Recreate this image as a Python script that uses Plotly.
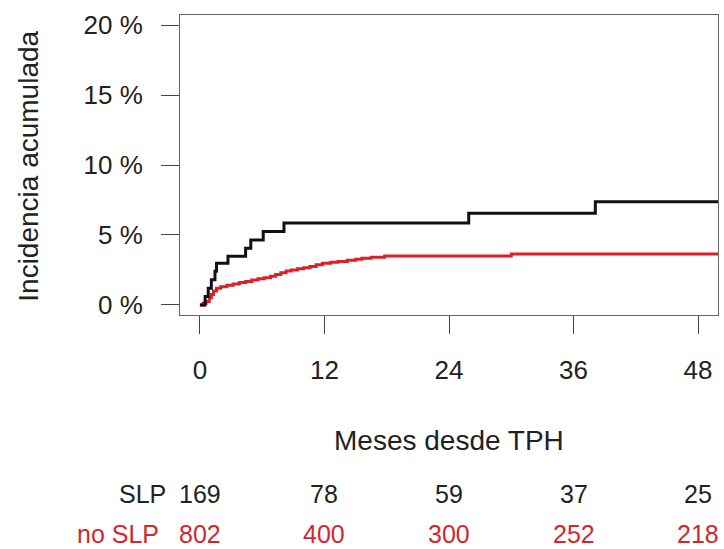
import plotly.graph_objects as go

# Cumulative incidence (%) by months since transplant, step functions
slp_time = [0, 0.5, 0.8, 1.1, 1.45, 1.6, 2.7, 4.4, 4.9, 6.1, 8.1, 25.9, 38.1, 52]
slp_cif = [0, 0.6, 1.2, 1.8, 2.4, 2.98, 3.47, 4.05, 4.64, 5.24, 5.86, 6.55, 7.38, 7.38]

noslp_time = [0, 0.3, 0.6, 0.9, 1.1, 1.3, 1.6, 2.0, 2.6, 3.2, 3.8, 4.4, 5.0, 5.6,
              6.2, 6.8, 7.3, 7.8, 8.3, 8.8, 9.4, 10.0, 10.6, 11.2, 11.8, 12.6,
              13.3, 14.2, 15.0, 15.6, 16.5, 17.8, 30.0, 52]
noslp_cif = [0, 0.12, 0.25, 0.5, 0.75, 1.0, 1.19, 1.3, 1.4, 1.5, 1.6, 1.68, 1.78, 1.87,
             1.95, 2.05, 2.17, 2.3, 2.42, 2.5, 2.58, 2.65, 2.75, 2.87, 2.98, 3.05,
             3.1, 3.2, 3.27, 3.33, 3.4, 3.5, 3.64, 3.64]

# Numbers at risk
risk_times = [0, 12, 24, 36, 48]
slp_at_risk = [169, 78, 59, 37, 25]
noslp_at_risk = [802, 400, 300, 252, 218]

y_ticks = [0, 5, 10, 15, 20]
y_ticktext = ["0 %", "5 %", "10 %", "15 %", "20 %"]

FONT = "Liberation Sans, Arial, sans-serif"
TICK_FS = 26
TITLE_FS = 28
TABLE_FS = 25
BLACK = "#111111"
RED = "#dd1f26"
RED_TEXT = "#d0282e"

fig = go.Figure()
fig.add_trace(go.Scatter(x=noslp_time, y=noslp_cif, mode="lines",
                         line=dict(color=RED, width=3, shape="hv"), name="no SLP"))
fig.add_trace(go.Scatter(x=slp_time, y=slp_cif, mode="lines",
                         line=dict(color=BLACK, width=3, shape="hv"), name="SLP"))

fig.update_layout(
    width=724, height=549,
    margin=dict(l=180, r=6, t=15, b=234),
    paper_bgcolor="white", plot_bgcolor="white",
    showlegend=False,
    font=dict(family=FONT, size=TICK_FS, color="#222222"),
)
fig.update_xaxes(
    range=[-1.92, 49.92], tickvals=risk_times,
    ticks="outside", ticklen=18, tickwidth=1, tickcolor="#444444",
    showline=True, mirror=True, linecolor="#666666", linewidth=1,
    showgrid=False, zeroline=False, ticklabelstandoff=14,
)
fig.update_yaxes(
    range=[-0.72, 20.72], tickvals=y_ticks, ticktext=y_ticktext,
    ticks="outside", ticklen=18, tickwidth=1, tickcolor="#444444",
    showline=True, mirror=True, linecolor="#666666", linewidth=1,
    showgrid=False, zeroline=False, ticklabelstandoff=13,
)

ann = []
ann.append(dict(text="Meses desde TPH", xref="paper", yref="paper", x=0.5, y=-0.4167,
                xanchor="center", yanchor="middle", showarrow=False,
                font=dict(size=TITLE_FS)))
ann.append(dict(text="Incidencia acumulada", xref="paper", yref="paper", x=-0.281, y=0.497,
                xanchor="center", yanchor="middle", textangle=-90, showarrow=False,
                font=dict(size=TITLE_FS)))

# Risk table rows, positioned in paper units below the plot area
row_y = [-0.597, -0.730]
ann.append(dict(text="SLP", xref="paper", yref="paper", x=-0.022, y=row_y[0],
                xanchor="right", yanchor="middle", showarrow=False,
                font=dict(size=TABLE_FS)))
ann.append(dict(text="no SLP", xref="paper", yref="paper", x=-0.035, y=row_y[1],
                xanchor="right", yanchor="middle", showarrow=False,
                font=dict(size=TABLE_FS, color=RED_TEXT)))
for t, n in zip(risk_times, slp_at_risk):
    ann.append(dict(text=str(n), xref="x", yref="paper", x=t, y=row_y[0],
                    xanchor="center", yanchor="middle", showarrow=False,
                    font=dict(size=TABLE_FS)))
for t, n in zip(risk_times, noslp_at_risk):
    ann.append(dict(text=str(n), xref="x", yref="paper", x=t, y=row_y[1],
                    xanchor="center", yanchor="middle", showarrow=False,
                    font=dict(size=TABLE_FS, color=RED_TEXT)))
fig.update_layout(annotations=ann)

fig.write_html("out.html")
